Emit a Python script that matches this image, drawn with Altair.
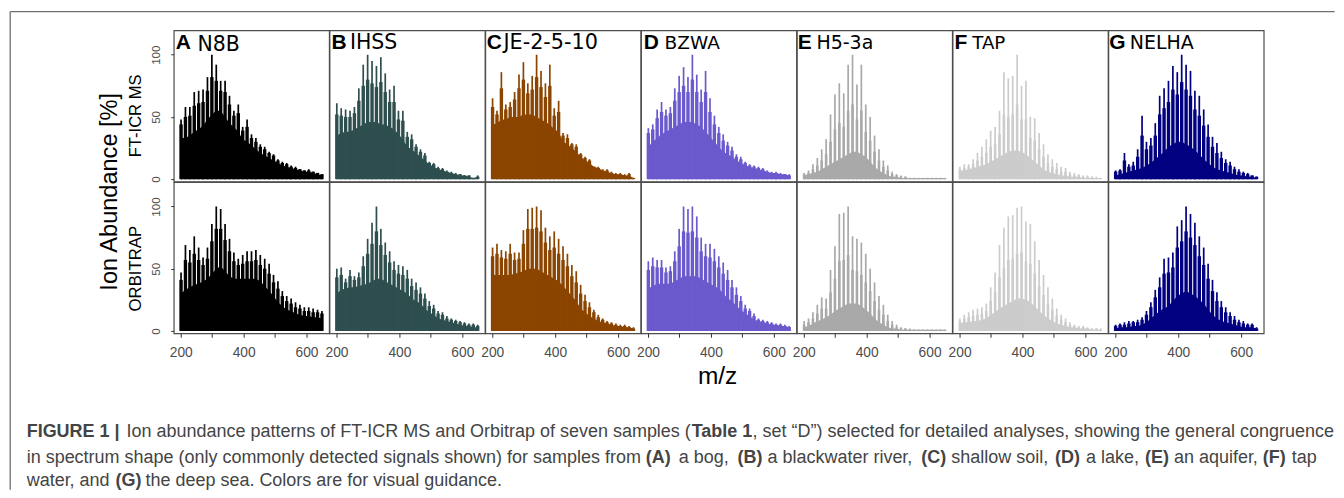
import altair as alt
import pandas as pd

TICKS_MZ = [200, 300, 400, 500, 600]
MZ = [201 + 14 * i for i in range(33)]

NAMES = ["N8B", "IHSS", "JE-2-5-10", "BZWA", "H5-3a", "TAP", "NELHA"]
LETTERS = ["A", "B", "C", "D", "E", "F", "G"]
COLORS = ["#000000", "#2F4F4F", "#8B4500", "#6A5ACD", "#A9A9A9", "#CCCCCC", "#000080"]

A_FT_PEAK = [48,58,58,70,71,72,82,100,92,79,79,67,55,60,42,48,36,33,28,26,22,20,16,14,13,11,10,8,7,8,6,5,4]
A_FT_SHLD = [44,50,51,59,61,62,71,82,79,71,70,60,51,53,39,42,33,30,26,24,21,19,15,13,12,10,9,8,7,7,6,5,4]
A_FT_FLOOR = [33,33,35,38,40,43,48,52,55,55,50,45,42,38,32,30,27,24,21,19,17,15,13,11,10,9,8,7,6,6,5,4,3]
B_FT_PEAK = [61,57,56,55,58,73,92,100,95,91,98,85,72,75,55,55,38,36,28,24,21,14,13,10,9,7,6,5,4,3,3,1,3]
B_FT_SHLD = [52,51,50,50,53,63,75,80,77,74,78,70,62,62,48,47,34,32,26,22,19,13,12,9,8,6,5,4,4,3,3,1,2]
B_FT_FLOOR = [35,37,38,38,40,42,44,46,46,46,44,44,42,40,36,32,26,24,21,18,15,12,10,8,7,6,5,4,3,3,2,1,2]
C_FT_PEAK = [65,55,86,60,62,70,84,94,77,83,100,87,77,92,57,63,37,36,29,28,21,18,16,10,10,8,8,6,5,5,4,5,1]
C_FT_SHLD = [58,52,73,56,58,64,73,80,69,72,82,74,66,75,51,54,35,33,28,26,20,17,15,10,9,7,7,5,4,4,3,4,1]
C_FT_FLOOR = [44,45,48,48,50,50,50,52,52,52,50,48,46,44,40,38,30,28,25,22,18,15,13,10,9,7,6,5,4,4,3,3,1]
D_FT_PEAK = [41,44,56,62,56,58,73,83,90,82,100,84,72,87,65,51,42,36,30,26,20,18,14,12,11,10,9,7,6,6,5,4,4]
D_FT_SHLD = [37,40,49,54,51,53,63,70,75,70,80,70,62,70,54,44,37,31,27,23,18,16,13,11,10,9,8,6,5,5,4,4,3]
D_FT_FLOOR = [26,30,33,36,38,40,42,44,46,46,46,44,42,38,34,30,26,22,20,18,15,13,11,10,9,8,7,6,5,5,4,4,3]
E_FT_PEAK = [5,7,12,17,24,32,52,68,77,69,92,100,76,92,60,50,35,24,15,11,6,4,3,2,1,1,1,1,1,1,1,1,1]
E_FT_SHLD = [4,5,8,11,15,20,30,40,45,42,55,60,48,55,38,31,22,15,10,7,4,3,2,2,1,1,1,1,1,1,1,1,1]
E_FT_FLOOR = [3,4,5,6,8,10,12,14,16,18,20,22,22,20,18,14,10,7,5,3,2,2,1,1,1,1,1,1,1,1,1,1,1]
F_FT_PEAK = [10,12,12,16,21,26,32,39,42,55,86,81,83,100,75,79,50,49,37,28,20,16,13,10,9,6,5,4,3,3,2,2,1]
F_FT_SHLD = [8,9,10,12,15,18,21,26,28,36,52,50,52,60,48,48,33,31,24,18,13,10,8,6,6,4,3,3,2,2,2,1,1]
F_FT_FLOOR = [7,7,8,9,10,11,12,14,16,18,20,22,23,23,22,20,17,14,11,8,6,5,4,3,3,2,2,2,1,1,1,1,1]
G_FT_PEAK = [7,8,21,12,14,24,51,30,33,45,67,73,79,91,86,100,92,87,71,67,56,44,34,29,22,16,14,10,8,6,5,3,2]
G_FT_SHLD = [6,7,15,10,11,18,35,24,27,35,52,57,62,72,68,78,72,67,56,51,43,34,26,21,17,13,11,8,6,5,4,3,2]
G_FT_FLOOR = [3,4,5,6,7,8,9,11,13,16,19,22,26,28,30,30,28,26,23,20,16,13,10,8,7,6,5,4,3,3,2,2,1]

A_OT_PEAK = [47,69,65,76,67,59,67,86,100,98,86,74,63,58,61,64,64,65,61,58,54,45,40,32,28,26,23,21,19,19,18,17,16]
A_OT_SHLD = [41,57,55,62,57,53,58,72,82,82,73,64,56,53,54,56,56,57,53,50,46,39,34,28,24,22,19,18,16,16,15,15,14]
A_OT_FLOOR = [30,33,35,37,38,40,42,46,50,52,48,44,42,42,42,42,42,42,40,36,32,28,23,20,17,16,14,13,12,12,11,11,10]
B_OT_PEAK = [50,51,42,49,44,47,60,74,87,100,82,71,64,56,53,52,49,42,39,35,30,24,21,16,15,12,10,9,8,7,6,6,5]
B_OT_SHLD = [43,45,39,44,41,43,52,62,70,80,69,61,55,49,46,45,42,36,33,30,26,20,18,14,13,10,9,8,7,6,5,5,4]
B_OT_FLOOR = [30,33,34,35,35,36,37,38,40,42,42,40,38,36,34,32,30,26,24,22,18,15,13,10,9,8,7,6,5,4,4,3,3]
C_OT_PEAK = [67,70,65,64,70,63,63,81,98,99,100,97,83,76,80,74,68,62,53,48,37,29,23,17,13,10,8,7,6,5,5,4,3]
C_OT_SHLD = [60,62,59,58,62,57,58,70,82,82,83,80,71,65,67,62,57,52,44,39,30,24,19,15,11,9,7,6,5,4,4,3,2]
C_OT_FLOOR = [45,45,45,45,45,46,47,48,50,50,50,48,46,44,42,40,36,32,28,24,18,15,12,10,8,7,6,5,4,4,3,3,2]
D_OT_PEAK = [56,59,57,57,51,52,64,82,100,98,100,92,75,70,70,66,60,55,49,41,35,28,21,18,14,10,9,8,7,6,6,5,4]
D_OT_SHLD = [49,52,51,51,47,48,56,68,80,79,80,75,64,60,59,56,51,46,41,35,29,24,18,16,12,9,8,7,6,5,5,4,3]
D_OT_FLOOR = [34,36,38,38,38,38,40,42,44,44,44,44,42,40,38,36,34,30,26,24,20,17,14,12,9,8,7,6,5,5,4,4,3]
E_OT_PEAK = [8,10,15,21,27,26,49,68,94,95,100,76,74,71,62,50,39,28,21,13,8,5,3,2,2,1,1,1,1,1,1,1,1]
E_OT_SHLD = [5,7,10,14,18,18,31,42,56,57,61,49,48,45,39,32,24,17,13,8,5,3,2,2,1,1,1,1,1,1,1,1,1]
E_OT_FLOOR = [3,4,6,8,9,11,13,16,18,20,22,22,22,20,17,14,10,7,5,3,2,2,1,1,1,1,1,1,1,1,1,1,1]
F_OT_PEAK = [10,13,15,17,18,19,22,35,47,69,83,92,93,99,100,88,86,72,57,45,35,26,18,13,10,7,5,4,4,3,2,2,2]
F_OT_SHLD = [8,10,11,12,13,14,16,24,31,43,51,57,58,62,63,56,54,46,36,29,22,17,12,9,7,5,4,3,3,2,2,2,1]
F_OT_FLOOR = [6,7,7,8,8,9,10,13,15,18,20,22,24,26,26,25,23,20,16,13,10,8,6,5,4,3,3,2,2,2,1,1,1]
G_OT_PEAK = [5,6,7,8,8,9,11,16,23,33,43,58,59,63,84,89,100,94,87,76,67,54,41,31,24,19,15,12,9,8,6,6,3]
G_OT_SHLD = [4,5,5,6,7,7,9,13,19,27,35,46,47,51,67,72,80,75,69,60,53,42,32,24,19,15,12,9,7,6,5,5,2]
G_OT_FLOOR = [2,3,3,3,4,4,5,7,10,13,16,18,20,24,28,30,32,30,28,25,22,17,13,10,8,7,6,5,4,3,3,3,2]

FT_SERIES = [(A_FT_PEAK, A_FT_SHLD, A_FT_FLOOR), (B_FT_PEAK, B_FT_SHLD, B_FT_FLOOR),
             (C_FT_PEAK, C_FT_SHLD, C_FT_FLOOR), (D_FT_PEAK, D_FT_SHLD, D_FT_FLOOR),
             (E_FT_PEAK, E_FT_SHLD, E_FT_FLOOR), (F_FT_PEAK, F_FT_SHLD, F_FT_FLOOR),
             (G_FT_PEAK, G_FT_SHLD, G_FT_FLOOR)]
OT_SERIES = [(A_OT_PEAK, A_OT_SHLD, A_OT_FLOOR), (B_OT_PEAK, B_OT_SHLD, B_OT_FLOOR),
             (C_OT_PEAK, C_OT_SHLD, C_OT_FLOOR), (D_OT_PEAK, D_OT_SHLD, D_OT_FLOOR),
             (E_OT_PEAK, E_OT_SHLD, E_OT_FLOOR), (F_OT_PEAK, F_OT_SHLD, F_OT_FLOOR),
             (G_OT_PEAK, G_OT_SHLD, G_OT_FLOOR)]

PANEL_W = 155.6
PANEL_H = 151.4
OX, OY = 172.3, 29.3
LINE = "#4d4d4d"
TXT = "#444444"
XSCALE = alt.Scale(domain=[177.8, 671.8], nice=False, zero=False)
YSCALE = alt.Scale(domain=[-1.9, 119.6], nice=False, zero=False)


def txt(t, px, py, size, font="Liberation Sans", bold=False, color="#000000", angle=0, align="left", baseline="alphabetic"):
    d = pd.DataFrame({"t": [t]})
    return alt.Chart(d).mark_text(
        font=font, fontSize=size, fontWeight="bold" if bold else "normal",
        color=color, angle=angle, align=align, baseline=baseline,
    ).encode(x=alt.value(px), y=alt.value(py), text="t:N")


def abs_txt(t, px, py, size, **kw):
    return txt(t, px - OX, py - OY, size, **kw)


def panel(peak, shoulder, floor, color, col, row):
    df = pd.DataFrame({"mz": MZ, "peak": peak, "shoulder": shoulder, "floor": floor, "base": [0] * len(MZ)})
    if row == 1:
        xaxis = alt.Axis(values=TICKS_MZ, title=None, grid=False, domain=False, tickColor="#333333", tickSize=4,
                         labelExpr="datum.value % 200 == 0 ? datum.label : ''", labelColor=LINE, labelFontSize=13.8,
                         labelFont="Liberation Sans", labelPadding=8, labelOverlap=False, labelFlush=False)
    else:
        xaxis = None
    if col == 0:
        yaxis = alt.Axis(values=[0, 50, 100], title=None, grid=False, domain=False, tickColor="#333333", tickSize=3,
                         labelAngle=270, labelAlign="center", labelBaseline="bottom", labelColor=LINE,
                         labelFontSize=11.6, labelFont="Liberation Sans", labelPadding=9)
    else:
        yaxis = None
    x = alt.X("mz:Q", scale=XSCALE, axis=xaxis)
    base = alt.Chart(df)
    area = base.mark_area(color=color, opacity=1, interpolate="linear").encode(
        x=x, y=alt.Y("floor:Q", scale=YSCALE, axis=yaxis), y2="base:Q")
    wide = 2.6 if col in (4, 5) else 3.4
    shoulders = base.mark_rule(color=color, strokeWidth=wide).encode(
        x=x, y=alt.Y("shoulder:Q", scale=YSCALE, axis=yaxis), y2="base:Q")
    rules = base.mark_rule(color=color, strokeWidth=1.7).encode(
        x=x, y=alt.Y("peak:Q", scale=YSCALE, axis=yaxis), y2="base:Q")
    layers = [area, shoulders, rules]
    if row == 0:
        i = col
        lx = [2, 2, 1.5, 2.6, 1, 2, 0.8][i]
        nx = [23.7, 20.4, 18.2, 23.6, 19.6, 19.7, 21.4][i]
        nsize = [20.5, 20.5, 20.8, 18.5, 19, 18.2, 19][i]
        layers.append(txt(LETTERS[i], lx, 19, 21, bold=True))
        layers.append(txt(NAMES[i], nx, 21 if i == 0 else 19, nsize, font="DejaVu Sans"))
    return alt.layer(*layers).properties(width=PANEL_W, height=PANEL_H)


def extras():
    frame = pd.DataFrame({"a": [0]})
    items = [
        alt.Chart(frame).mark_rule(color="#707070", strokeWidth=1.3).encode(
            x=alt.value(8.5 - OX), x2=alt.value(1335 - OX), y=alt.value(10.5 - OY)),
        alt.Chart(frame).mark_rule(color="#707070", strokeWidth=1.3).encode(
            x=alt.value(8.5 - OX), y=alt.value(10.5 - OY), y2=alt.value(489.5 - OY)),
        abs_txt("Ion Abundance [%]", 115, 191, 23.6, angle=270, align="center"),
        abs_txt("FT-ICR MS", 140, 115, 16.6, angle=270, align="center"),
        abs_txt("ORBITRAP", 140, 268, 16.8, angle=270, align="center"),
        abs_txt("m/z", 717, 384, 24.5, align="center"),
    ]
    cap = [
        ("FIGURE 1 |", 25, 437, True),
        ("Ion abundance patterns of FT-ICR MS and Orbitrap of seven samples (", 125, 437, False),
        ("Table 1", 691, 437, True),
        (", set \u201cD\u201d) selected for detailed analyses, showing the general congruence", 752, 437, False),
        ("in spectrum shape (only commonly detected signals shown) for samples from", 25, 462.5, False),
        ("(A)", 645, 462.5, True), ("a bog,", 678, 462.5, False),
        ("(B)", 737, 462.5, True), ("a blackwater river,", 767, 462.5, False),
        ("(C)", 921, 462.5, True), ("shallow soil,", 951, 462.5, False),
        ("(D)", 1055, 462.5, True), ("a lake,", 1086, 462.5, False),
        ("(E)", 1145, 462.5, True), ("an aquifer,", 1174, 462.5, False),
        ("(F)", 1263, 462.5, True), ("tap", 1292, 462.5, False),
        ("water, and", 25, 486, False),
        ("(G)", 114, 486, True),
        ("the deep sea. Colors are for visual guidance.", 144, 486, False),
    ]
    for t, px, py, b in cap:
        items.append(abs_txt(t, px, py, 18, bold=b, color=TXT))
    return items


panels = []
for row, series in enumerate([FT_SERIES, OT_SERIES]):
    for col, (p, s, f) in enumerate(series):
        ch = panel(p, s, f, COLORS[col], col, row)
        if row == 0 and col == 0:
            ch = alt.layer(*ch.layer, *extras()).properties(width=PANEL_W, height=PANEL_H)
        panels.append(ch)

chart = alt.concat(*panels, columns=7, spacing=0, bounds="flush").properties(
    padding={"left": 0, "top": 1, "right": 0, "bottom": 0}, background="white"
).configure_view(stroke=LINE, strokeWidth=1.2)

chart.save("out.html", embed_options={"renderer": "svg", "actions": False})
